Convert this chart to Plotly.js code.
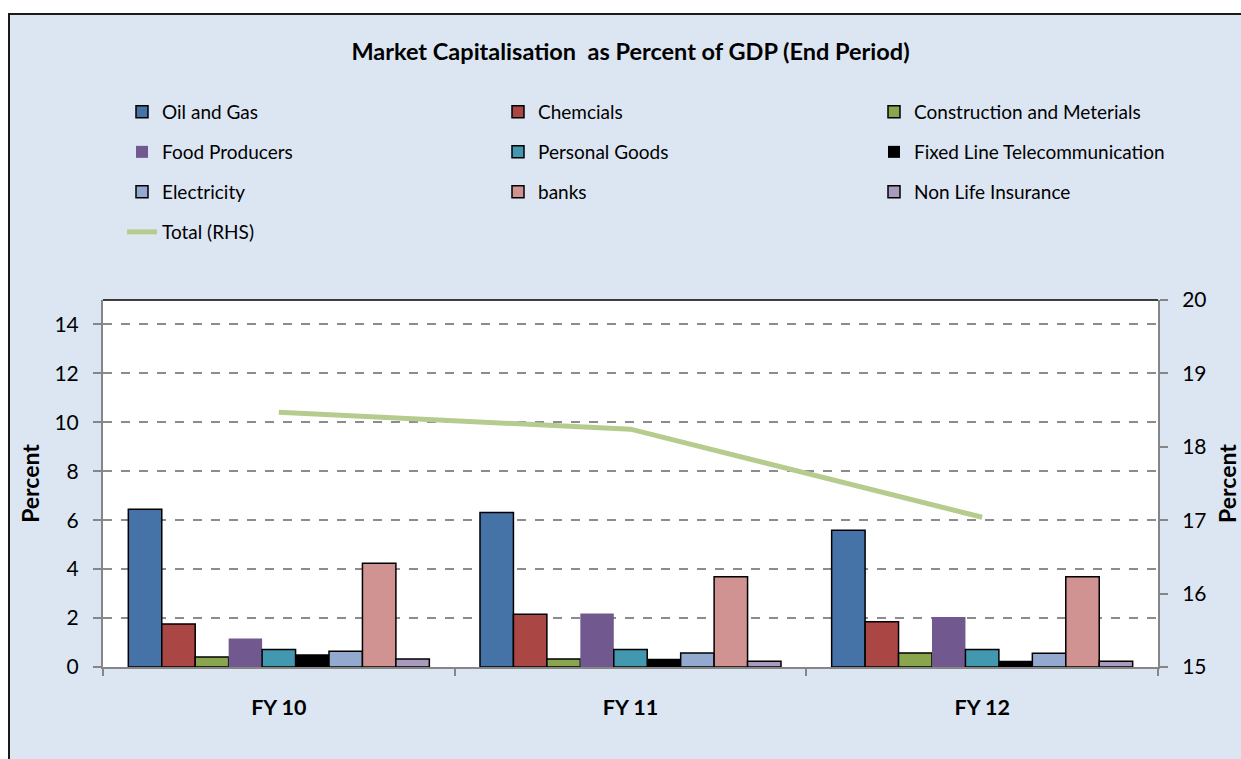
<!DOCTYPE html>
<html>
<head>
<meta charset="utf-8">
<script src="https://cdn.plot.ly/plotly-3.0.1.min.js"></script>
<style>html,body{margin:0;padding:0;background:#fff;}#chart{width:1241px;height:759px;}</style>
</head>
<body>
<div id="chart"></div>
<script>
const categories = ["FY 10", "FY 11", "FY 12"];
const seriesNames = ["Oil and Gas", "Chemcials", "Construction and Meterials",
  "Food Producers", "Personal Goods", "Fixed Line Telecommunication",
  "Electricity", "banks", "Non Life Insurance"];
const oilGas = [6.45, 6.31, 5.59];
const chemicals = [1.76, 2.16, 1.85];
const construction = [0.41, 0.33, 0.57];
const foodProducers = [1.16, 2.19, 2.04];
const personalGoods = [0.72, 0.72, 0.72];
const fixedLine = [0.52, 0.34, 0.26];
const electricity = [0.64, 0.57, 0.56];
const banks = [4.24, 3.69, 3.69];
const nonLife = [0.33, 0.24, 0.24];
const totalRHS = [18.47, 18.24, 17.04];
const totalName = "Total (RHS)";
const leftTicks = [0, 2, 4, 6, 8, 10, 12, 14];
const rightTicks = [15, 16, 17, 18, 19, 20];

const seriesValues = [oilGas, chemicals, construction, foodProducers, personalGoods,
  fixedLine, electricity, banks, nonLife];
const colors = ["#4572A7", "#AA4643", "#89A54E", "#71588F", "#4198AF",
  "#000000", "#93A9CF", "#D19392", "#A99BBD"];
const outline = [true, true, true, false, true, false, true, true, true];

const FONT = "Lato, 'Liberation Sans', sans-serif";
const legendKey = i => (i === 0 ? "legend" : "legend" + (i + 1));

const traces = seriesValues.map((vals, i) => ({
  type: "bar",
  name: seriesNames[i],
  x: categories,
  y: vals,
  showlegend: true,
  marker: {color: colors[i], line: {color: outline[i] ? "#000000" : colors[i], width: outline[i] ? 1.5 : 0}},
  legend: legendKey(i),
  hoverinfo: "x+y+name"
}));
traces.push({
  type: "scatter",
  mode: "lines",
  name: totalName,
  x: categories,
  y: totalRHS,
  yaxis: "y2",
  showlegend: true,
  line: {color: "#B5CC8E", width: 5},
  legend: legendKey(9)
});

// plot area: x 103..1158, y 300..667
const L = 103, R = 1158, T = 300, B = 667;
const px = v => (v - L) / (R - L);
const py = v => (B - v) / (B - T);

// legend grid: 3 columns, 4 rows (text start x, row centre y)
const colTextX = [162, 538, 914];
const rowY = [112, 152, 192, 232];
function legendAt(i) {
  const col = i % 3, row = Math.floor(i / 3);
  return {
    orientation: "h",
    xref: "container", yref: "container",
    x: (colTextX[col] - 40) / 1241, xanchor: "left",
    y: 1 - rowY[row] / 759, yanchor: "middle",
    bgcolor: "rgba(0,0,0,0)",
    font: {family: FONT, size: 19, color: "#000"}
  };
}

const layout = {
  width: 1241, height: 759,
  showlegend: true,
  margin: {l: L, r: 1241 - R, t: T, b: 759 - B, pad: 0, autoexpand: false},
  paper_bgcolor: "#DCE6F2",
  plot_bgcolor: "#FFFFFF",
  font: {family: FONT, color: "#000"},
  barmode: "group",
  bargap: 0.144,
  bargroupgap: 0,
  title: {
    text: "Market Capitalisation  as Percent of GDP (End Period)",
    font: {family: FONT, size: 23.5, weight: "bold", color: "#000"},
    x: 0.5, xref: "paper", xanchor: "center",
    y: 1 - 52 / 759, yref: "container", yanchor: "middle"
  },
  xaxis: {
    type: "category",
    showline: true, linecolor: "#868686", linewidth: 2,
    ticks: "outside", tickson: "boundaries", ticklen: 7, tickcolor: "#868686", tickwidth: 2,
    tickfont: {family: FONT, size: 21.5, weight: "bold", color: "#000"},
    ticklabelstandoff: 20,
    showgrid: false, zeroline: false, fixedrange: true
  },
  yaxis: {
    range: [0, 15],
    tickvals: leftTicks,
    ticks: "outside", ticklen: 8, tickcolor: "#868686", tickwidth: 1.5,
    showline: true, linecolor: "#868686", linewidth: 2,
    showgrid: true, gridcolor: "#8C8C8C", griddash: "dash", gridwidth: 1.5,
    zeroline: false,
    tickfont: {family: FONT, size: 21, color: "#000"},
    ticklabelstandoff: 10,
    title: {text: "Percent", font: {family: FONT, size: 23, weight: "bold", color: "#000"}, standoff: 8},
    fixedrange: true
  },
  yaxis2: {
    overlaying: "y", side: "right",
    range: [15, 20],
    tickvals: rightTicks,
    ticks: "outside", ticklen: 8, tickcolor: "#868686", tickwidth: 1.5,
    showline: true, linecolor: "#868686", linewidth: 2,
    showgrid: false, zeroline: false,
    tickfont: {family: FONT, size: 21, color: "#000"},
    ticklabelstandoff: 10,
    title: {text: "Percent", font: {family: FONT, size: 23, weight: "bold", color: "#000"}, standoff: 17},
    fixedrange: true
  },
  shapes: [
    // white outside of the chart frame (top strip and left strip)
    {type: "rect", xref: "paper", yref: "paper", x0: px(-20), x1: px(1300), y0: py(14), y1: py(-20),
      fillcolor: "#FFFFFF", line: {width: 0}, layer: "above"},
    {type: "rect", xref: "paper", yref: "paper", x0: px(-20), x1: px(9), y0: py(800), y1: py(-20),
      fillcolor: "#FFFFFF", line: {width: 0}, layer: "above"},
    // chart frame
    {type: "rect", xref: "paper", yref: "paper", x0: px(9), x1: px(1260), y0: py(800), y1: py(14),
      fillcolor: "rgba(0,0,0,0)", line: {color: "#1a1a1a", width: 2}, layer: "above"},
    // top border of plot area
    {type: "line", xref: "paper", yref: "paper", x0: 0, x1: 1, y0: 1, y1: 1,
      line: {color: "#000000", width: 1.5}, layer: "above"}
  ]
};
for (let i = 0; i < 10; i++) layout[legendKey(i)] = legendAt(i);

Plotly.newPlot("chart", traces, layout, {displayModeBar: false, responsive: false});
</script>
</body>
</html>
